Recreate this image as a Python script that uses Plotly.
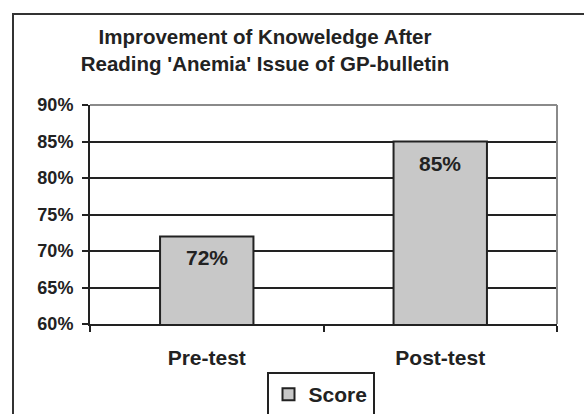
import plotly.graph_objects as go

categories = ["Pre-test", "Post-test"]
scores = [0.72, 0.85]
series_name = "Score"
title_lines = ["Improvement of Knoweledge After", "Reading 'Anemia' Issue of GP-bulletin"]
y_ticks = [0.60, 0.65, 0.70, 0.75, 0.80, 0.85, 0.90]

FONT = "Arial, Liberation Sans, sans-serif"

fig = go.Figure()
fig.add_trace(go.Bar(
    x=categories, y=scores, name=series_name,
    marker=dict(color="#c8c8c8", line=dict(color="#222222", width=2)),
    showlegend=True,
))

for c, v in zip(categories, scores):
    fig.add_annotation(x=c, y=v, text=f"<b>{round(v*100)}%</b>", showarrow=False,
                       yanchor="top", yshift=-8,
                       font=dict(family=FONT, size=21, color="#222222"))

W, H = 584, 414
L, R, T, B = 90, 27, 105, 90
pw, ph = W - L - R, H - T - B

def px_x(p):
    return (p - L) / pw

def px_y(p):
    return (H - B - p) / ph

# outer chart border
fig.add_shape(type="rect", xref="paper", yref="paper",
              x0=px_x(13), x1=px_x(600), y0=px_y(430), y1=px_y(14),
              line=dict(color="#333333", width=2), layer="below")
# plot-area gray top and right border
fig.add_shape(type="line", xref="paper", yref="paper", x0=0, x1=1, y0=1, y1=1,
              line=dict(color="#8a8a8a", width=2))
fig.add_shape(type="line", xref="paper", yref="paper", x0=1, x1=1, y0=0, y1=1,
              line=dict(color="#8a8a8a", width=2))

fig.update_layout(
    width=W, height=H,
    margin=dict(l=L, r=R, t=T, b=B, autoexpand=False),
    paper_bgcolor="white", plot_bgcolor="white",
    title=dict(text="<br>".join(title_lines), x=265 / W, xanchor="center",
               y=1 - 44 / H, yanchor="top", xref="container", yref="container",
               font=dict(family=FONT, size=20.5, color="#222222", weight="bold")),
    bargap=0.6,
    font=dict(family=FONT, color="#222222"),
    legend=dict(orientation="h", x=px_x(320.5), xanchor="center",
                y=px_y(372), yanchor="top",
                bgcolor="white", bordercolor="#222222", borderwidth=2,
                font=dict(family=FONT, size=21, color="#222222", weight="bold")),
)
fig.update_xaxes(
    type="category", range=[-0.5, 1.5], automargin=False,
    showline=True, linecolor="#222222", linewidth=2,
    ticks="outside", tickson="boundaries", ticklen=6, tickcolor="#222222", tickwidth=2,
    ticklabelstandoff=14,
    tickfont=dict(family=FONT, size=21, color="#222222", weight="bold"),
    showgrid=False,
)
fig.update_yaxes(
    range=[0.60, 0.90], tickvals=y_ticks, tickformat=".0%", automargin=False,
    showline=True, linecolor="#222222", linewidth=2,
    ticks="outside", ticklen=6, tickcolor="#222222", tickwidth=2,
    ticklabelstandoff=5,
    showgrid=True, gridcolor="#222222", gridwidth=2,
    tickfont=dict(family=FONT, size=18, color="#222222", weight="bold"),
    zeroline=False,
)

fig.write_html("out.html", config={"displayModeBar": False},
               post_script="document.body.style.margin='0';document.body.style.overflow='hidden';")
